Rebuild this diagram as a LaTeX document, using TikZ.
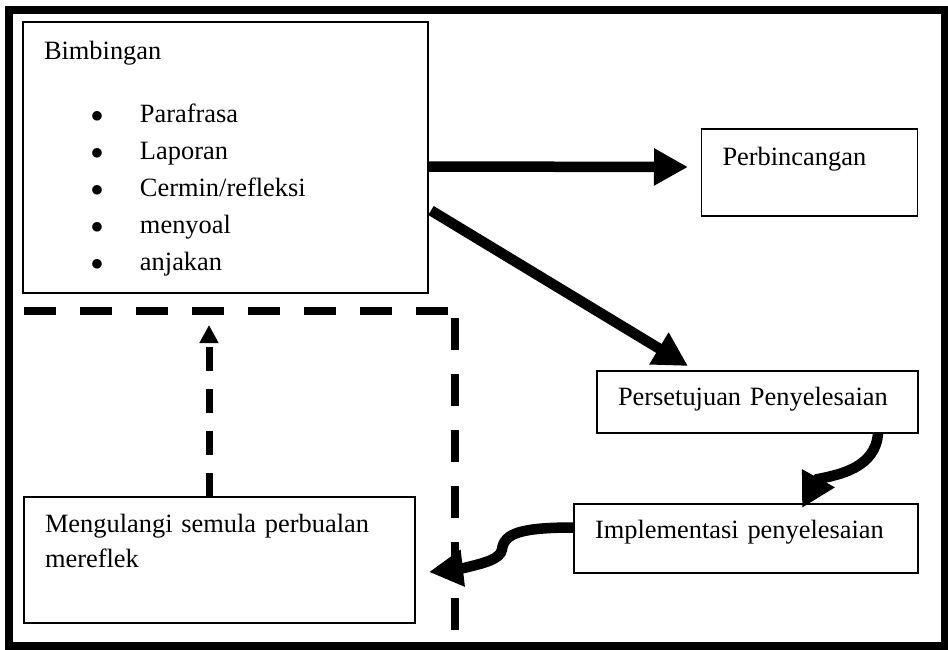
\documentclass[tikz,border=0pt]{standalone}
\usepackage{fontspec}
\setmainfont{Liberation Serif}
\usetikzlibrary{arrows.meta,calc}
\begin{document}
\begin{tikzpicture}[x=1pt,y=-1pt,inner sep=0pt,outer sep=0pt,
box/.style={draw,rectangle,line width=1.5pt,anchor=north west,align=left,inner xsep=21pt,inner ysep=0pt,font=\fontsize{26.4}{37}\selectfont},
bigarrow/.style={line width=10.5pt,-{Triangle[length=34pt,width=35pt]}},
dashline/.style={line width=8pt,dash pattern=on 32pt off 24pt},
dasharrow/.style={line width=7pt,dash pattern=on 24pt off 18pt,-{Triangle[length=18pt,width=18pt]}}]
\useasboundingbox (0,0) rectangle (948,649);
\draw[line width=8pt] (9,9.5) rectangle (945,646);
\draw (23,22) node[box,text width=363pt,text height=37pt,text depth=234pt] (bimb) {Bimbingan\\[26pt]
\hspace*{53pt}\makebox[0pt]{$\bullet$}\hspace*{43pt}Parafrasa\\
\hspace*{53pt}\makebox[0pt]{$\bullet$}\hspace*{43pt}Laporan\\
\hspace*{53pt}\makebox[0pt]{$\bullet$}\hspace*{43pt}Cermin/refleksi\\
\hspace*{53pt}\makebox[0pt]{$\bullet$}\hspace*{43pt}menyoal\\
\hspace*{53pt}\makebox[0pt]{$\bullet$}\hspace*{43pt}anjakan};
\draw (701.5,129) node[box,text width=174pt,text height=36pt,text depth=51pt] (perb) {Perbincangan};
\draw (597,371) node[box,text width=279pt,text height=34pt,text depth=28pt] (pers) {Persetujuan Penyelesaian};
\draw (574,504) node[box,text width=302pt,text height=34pt,text depth=35pt] (impl) {Implementasi penyelesaian};
\draw (24,497) node[box,text width=349pt,text height=35pt,text depth=91pt,font=\fontsize{26.4}{35}\selectfont] (meng) {Mengulangi semula perbualan\\mereflek};
\draw[bigarrow] ($(bimb.east)+(0,9)$) -- ($(perb.west)+(-13.5,-5.5)$);
\draw[bigarrow] ($(bimb.east)+(3,53)$) -- ($(pers.north)+(-69.5,-5)$);
\draw[bigarrow] ($(pers.south)+(120.5,0)$) .. controls +(-2,35) and +(20,-4) .. ++(-60,46) -- ($(impl.north)+(56,4)$);
\draw[bigarrow] ($(impl.west)+(0,-11)$) .. controls +(-54,0) and +(2,-16) .. ++(-72,22) .. controls +(-2,10) and +(20,-5) .. ++(-38,18.5) -- ($(meng.east)+(14,12)$);
\draw[dashline] (24,311) -- (448,311);
\draw[dashline] (455,318) -- (455,631);
\draw[dasharrow] ($(meng.north)+(-10.5,0)$) -- ($(meng.north)+(-10.5,-172)$);
\end{tikzpicture}
\end{document}
